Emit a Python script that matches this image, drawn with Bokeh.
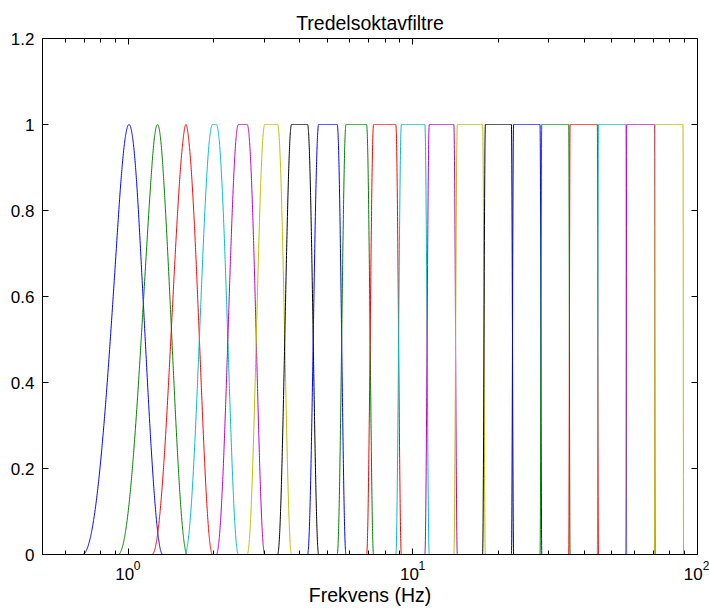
import numpy as np
from bokeh.plotting import figure
from bokeh.models import (FixedTicker, LogAxis, LinearAxis, CustomJSTickFormatter,
                          Range1d)
from bokeh.embed import file_html
from bokeh.resources import INLINE

# ---- data ----
centers = [1, 1.25, 1.6, 2, 2.5, 3.15, 4, 5, 6.3, 8, 10, 12.5, 16, 20, 25,
           31.5, 40, 50, 63, 80]
band_edges = [0.891, 1.122, 1.413, 1.778, 2.239, 2.818, 3.548, 4.467, 5.623,
              7.079, 8.913, 11.22, 14.13, 17.78, 22.39, 28.18, 35.48, 44.67,
              56.23, 70.79, 89.13]
transition_hz = 0.4
line_colors = ["#0000ff", "#008000", "#ff0000", "#00bfbf", "#bf00bf",
               "#bfbf00", "#000000"]
freq_limits = [0.5, 100]
gain_limits = [0, 1.2]
x_major_ticks = [1, 10, 100]
y_major_ticks = [0, 0.2, 0.4, 0.6, 0.8, 1.0, 1.2]
title_text = "Tredelsoktavfiltre"
xlabel_text = "Frekvens (Hz)"

FONT = "Liberation Sans"

x_minor_ticks = [m * 10.0 ** k for k in (-1, 0, 1) for m in range(2, 10)]

p = figure(width=709, height=608, x_axis_type="log",
           x_range=Range1d(*freq_limits), y_range=Range1d(*gain_limits),
           output_backend="svg", toolbar_location=None,
           min_border_left=42, min_border_right=12, min_border_top=38,
           min_border_bottom=54)
p.grid.visible = False
p.outline_line_color = "black"
p.outline_line_width = 1
p.background_fill_color = "white"
p.border_fill_color = "white"

p.title.text = title_text
p.title.align = "center"
p.title.text_font = FONT
p.title.text_font_size = "19.5px"
p.title.text_font_style = "normal"
p.title.text_color = "black"

# exponent part of the log labels (raised, shifted right with en spaces)
exp_fmt = CustomJSTickFormatter(code="""
const e = Math.round(Math.log10(tick));
return '\u2002\u2002\u2002' + String(e);
""")
# base part "10" (shifted left with thin spaces)
base_fmt = CustomJSTickFormatter(code="""
return '10\u2009\u2009';
""")
yfmt = CustomJSTickFormatter(code="""
return (Math.abs(tick - Math.round(tick)) < 1e-9) ? tick.toFixed(0) : tick.toFixed(1);
""")

def style_axis(ax, labels=True):
    ax.axis_line_color = "black"
    ax.major_tick_line_color = "black"
    ax.minor_tick_line_color = "black"
    ax.major_tick_in = 6
    ax.major_tick_out = 0
    ax.minor_tick_in = 4
    ax.minor_tick_out = 0
    ax.major_label_text_font = FONT
    ax.major_label_text_color = "black"
    if labels:
        ax.major_label_text_font_size = "17px"
    else:
        ax.major_label_text_font_size = "1px"
        ax.major_label_text_alpha = 0
        ax.major_label_standoff = 0

xb = p.xaxis[0]
xb.ticker = FixedTicker(ticks=x_major_ticks, minor_ticks=x_minor_ticks)
xb.formatter = exp_fmt
style_axis(xb)
xb.major_label_text_font_size = "12px"
xb.major_label_standoff = 4

xb2 = LogAxis(ticker=FixedTicker(ticks=x_major_ticks, minor_ticks=[]),
              formatter=base_fmt)
style_axis(xb2)
xb2.axis_line_color = None
xb2.major_tick_line_color = None
xb2.minor_tick_line_color = None
xb2.major_label_standoff = -11
xb2.axis_label = xlabel_text
xb2.axis_label_text_font = FONT
xb2.axis_label_text_font_size = "19.5px"
xb2.axis_label_text_font_style = "normal"
xb2.axis_label_text_color = "black"
xb2.axis_label_standoff = -3
p.add_layout(xb2, "below")

yl = p.yaxis[0]
yl.ticker = FixedTicker(ticks=y_major_ticks, minor_ticks=[])
yl.formatter = yfmt
style_axis(yl)
yl.major_label_standoff = 8

xt = LogAxis(ticker=FixedTicker(ticks=x_major_ticks, minor_ticks=x_minor_ticks))
style_axis(xt, labels=False)
p.add_layout(xt, "above")
yr = LinearAxis(ticker=FixedTicker(ticks=y_major_ticks, minor_ticks=[]))
style_axis(yr, labels=False)
p.add_layout(yr, "right")


def transition(x):
    x = np.clip(x, -0.5, 0.5)
    return 0.5 * (1.0 + np.sin(np.pi * x))


w = transition_hz
for i, fc in enumerate(centers):
    lo, hi = band_edges[i], band_edges[i + 1]
    inner = np.linspace(lo - w / 2, hi + w / 2, 500)
    f = np.concatenate([[freq_limits[0]], inner, [freq_limits[1]]])
    g = transition((f - lo) / w) * transition((hi - f) / w)
    g = g / g.max()
    p.line(f, g, line_color=line_colors[i % len(line_colors)], line_width=1)

open("out.html", "w").write(file_html(p, INLINE))
